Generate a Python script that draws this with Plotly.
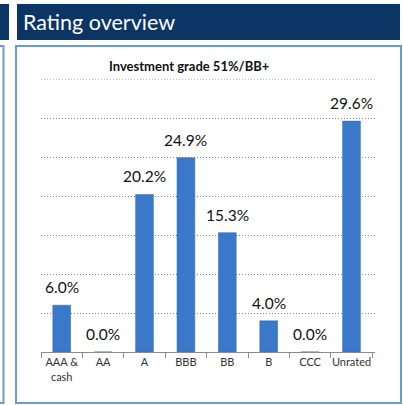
import plotly.graph_objects as go

categories = ["AAA &<br>cash", "AA", "A", "BBB", "BB", "B", "CCC", "Unrated"]
values = [6.0, 0.0, 20.2, 24.9, 15.3, 4.0, 0.0, 29.6]
value_labels = ["6.0%", "0.0%", "20.2%", "24.9%", "15.3%", "4.0%", "0.0%", "29.6%"]
y_ticks = [0, 5, 10, 15, 20, 25, 30, 35]
y_max = 35

W, H = 403, 405
NAVY = "#0b3564"
BORDER = "#6e9ad2"
GRID = "#7f7f7f"
FONT = "Lato"

def px(x):
    return x / W

def py(y):
    return (H - y) / H

fig = go.Figure()
fig.add_trace(go.Bar(
    x=categories, y=values,
    marker=dict(color="#3a79c9", line=dict(color="#2f66ad", width=0.5)),
    width=0.43,
    hoverinfo="skip",
))

annotations = []
for c, v, t in zip(categories, values, value_labels):
    annotations.append(dict(
        x=c, y=v, xref="x", yref="y", text=t, showarrow=False,
        yanchor="bottom", yshift=7,
        font=dict(family=FONT, size=15.5, color="#111111"),
    ))

annotations.append(dict(
    x=px(21), y=py(22), xref="paper", yref="paper", text="Rating overview",
    showarrow=False, xanchor="left", yanchor="middle",
    font=dict(family=FONT, size=21.5, color="white"),
))
annotations.append(dict(
    x=px(189), y=py(66), xref="paper", yref="paper",
    text="<b>Investment grade 51%/BB+</b>",
    showarrow=False, xanchor="center", yanchor="middle",
    font=dict(family=FONT, size=13, color="#111111"),
))

x_dom = [px(41), px(375)]

shapes = [
    dict(type="rect", xref="paper", yref="paper", x0=px(-2), x1=px(9), y0=py(40), y1=py(4),
         fillcolor=NAVY, line=dict(width=0), layer="below"),
    dict(type="rect", xref="paper", yref="paper", x0=px(17), x1=px(400), y0=py(40), y1=py(4),
         fillcolor=NAVY, line=dict(width=0), layer="below"),
    dict(type="rect", xref="paper", yref="paper", x0=px(-10), x1=px(3.5), y0=py(403), y1=py(46),
         fillcolor="rgba(0,0,0,0)", line=dict(color=BORDER, width=2), layer="below"),
    dict(type="rect", xref="paper", yref="paper", x0=px(16), x1=px(401), y0=py(403), y1=py(46),
         fillcolor="white", line=dict(color=BORDER, width=2), layer="below"),
    # top gridline (plotly drops gridlines at the very edge of the plot area)
    dict(type="line", xref="paper", yref="y", x0=x_dom[0], x1=x_dom[1], y0=y_max, y1=y_max,
         line=dict(color=GRID, width=1, dash="1px,2px"), layer="below"),
]

fig.update_layout(
    width=W, height=H,
    margin=dict(l=0, r=0, t=0, b=0, autoexpand=False),
    paper_bgcolor="white", plot_bgcolor="rgba(0,0,0,0)",
    showlegend=False,
    bargap=0.57,
    annotations=annotations,
    shapes=shapes,
    xaxis=dict(
        domain=x_dom,
        showgrid=False,
        showline=True, linecolor="#8c8c8c", linewidth=1,
        ticks="outside", ticklen=5, tickcolor="#8c8c8c", tickson="boundaries",
        tickfont=dict(family=FONT, size=11, color="#333333"),
        tickangle=0, automargin=False,
        fixedrange=True,
    ),
    yaxis=dict(
        domain=[py(352), py(79)],
        range=[0, y_max],
        tickvals=y_ticks,
        showticklabels=False,
        showgrid=True, gridcolor=GRID, griddash="1px,2px", gridwidth=1,
        zeroline=False, showline=False, automargin=False,
        fixedrange=True,
    ),
)

fig.write_html(
    "out.html",
    config={"displayModeBar": False},
    post_script="document.body.style.margin='0';document.body.style.padding='0';document.body.style.overflow='hidden';",
)
